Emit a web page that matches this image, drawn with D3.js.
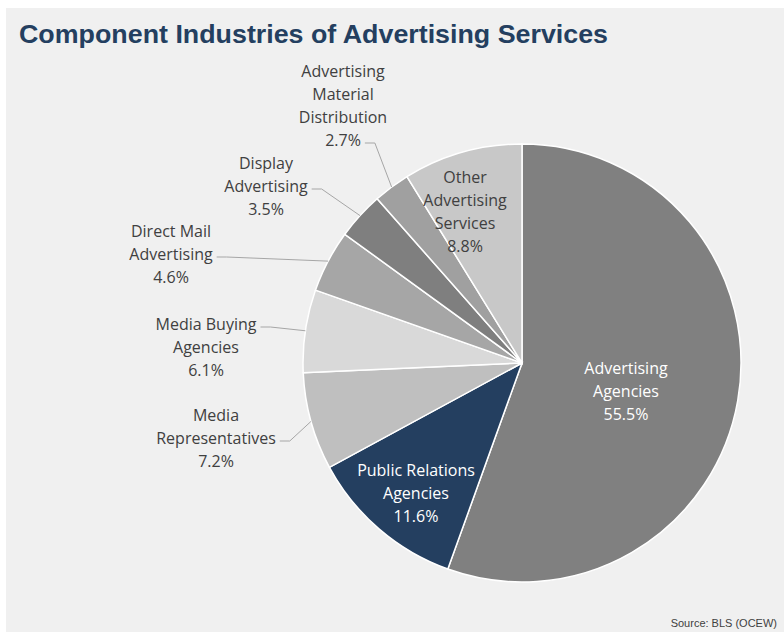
<!DOCTYPE html>
<html>
<head>
<meta charset="utf-8">
<script src="https://cdn.jsdelivr.net/npm/d3@7"></script>
<style>
  body { margin: 0; background: #fff; }
  .lbl { font-family: "Open Sans", Lato, sans-serif; }
  .ttl, .src { font-family: "Liberation Sans", Arial, sans-serif; }
</style>
</head>
<body>
<script>
// data
var categories = [
  ["Advertising", "Agencies"],
  ["Public Relations", "Agencies"],
  ["Media", "Representatives"],
  ["Media Buying", "Agencies"],
  ["Direct Mail", "Advertising"],
  ["Display", "Advertising"],
  ["Advertising", "Material", "Distribution"],
  ["Other", "Advertising", "Services"]
];
var values = [55.5, 11.6, 7.2, 6.1, 4.6, 3.5, 2.7, 8.8];
var colors = ["#808080", "#243f60", "#bfbfbf", "#d9d9d9", "#a6a6a6", "#7f7f7f", "#a0a0a0", "#c8c8c8"];

// label layout: offset of label centre from pie centre, first-line y, and leader line index (-1 = inside)
var labelLayout = [
  {dx: 104, dy: 5, fill: "#fff", leader: -1},
  {dx: -106, dy: 107, fill: "#fff", leader: -1},
  {dx: -306, dy: 52, fill: "#404040", leader: 1},
  {dx: -316, dy: -39, fill: "#404040", leader: 0},
  {dx: -351, dy: -132, fill: "#404040", leader: 1},
  {dx: -256, dy: -200, fill: "#404040", leader: 1},
  {dx: -179, dy: -292, fill: "#404040", leader: 3},
  {dx: -57, dy: -186, fill: "#404040", leader: -1}
];

var W = 784, H = 632;
var cx = 522, cy = 363, r = 219, lineH = 23;

var svg = d3.select("body").append("svg").attr("width", W).attr("height", H);

svg.append("rect").attr("x", 6).attr("y", 8).attr("width", W - 6).attr("height", H - 8).attr("fill", "#f0f0f0");

svg.append("text")
  .attr("class", "ttl")
  .attr("x", 19).attr("y", 43)
  .attr("fill", "#243f60")
  .attr("font-weight", "bold")
  .attr("font-size", 26)
  .attr("textLength", 589)
  .attr("lengthAdjust", "spacingAndGlyphs")
  .text("Component Industries of Advertising Services");

var pie = d3.pie().sort(null).value(function(d){ return d; });
var arcs = pie(values);
var arc = d3.arc().innerRadius(0).outerRadius(r);
var edge = d3.arc().innerRadius(r).outerRadius(r);

var g = svg.append("g").attr("transform", "translate(" + cx + "," + cy + ")");

g.selectAll("path.slice").data(arcs).enter().append("path")
  .attr("class", "slice")
  .attr("d", arc)
  .attr("fill", function(d, i){ return colors[i]; })
  .attr("stroke", "#fff")
  .attr("stroke-width", 1.5);

arcs.forEach(function(d, i){
  var L = labelLayout[i];
  var lines = categories[i].concat([d3.format(".1f")(values[i]) + "%"]);
  var t = g.append("text")
    .attr("class", "lbl")
    .attr("text-anchor", "middle")
    .attr("font-size", 16)
    .attr("fill", L.fill);
  var spans = [];
  lines.forEach(function(s, k){
    spans.push(t.append("tspan")
      .attr("x", L.dx)
      .attr("y", L.dy + k * lineH)
      .attr("dy", "0.35em")
      .text(s));
  });
  if (L.leader >= 0) {
    var node = spans[L.leader].node();
    var w = node.getComputedTextLength();
    var sx = L.dx + w / 2 + 4, sy = L.dy + L.leader * lineH + 3;
    var e = edge.centroid(d);
    g.append("polyline")
      .attr("points", [[sx, sy], [sx + 10, sy], e].map(function(p){ return p.join(","); }).join(" "))
      .attr("fill", "none")
      .attr("stroke", "#a6a6a6")
      .attr("stroke-width", 1);
  }
});

svg.append("text")
  .attr("class", "src")
  .attr("x", 777).attr("y", 627)
  .attr("text-anchor", "end")
  .attr("font-size", 11)
  .attr("fill", "#404040")
  .text("Source: BLS (OCEW)");
</script>
</body>
</html>
